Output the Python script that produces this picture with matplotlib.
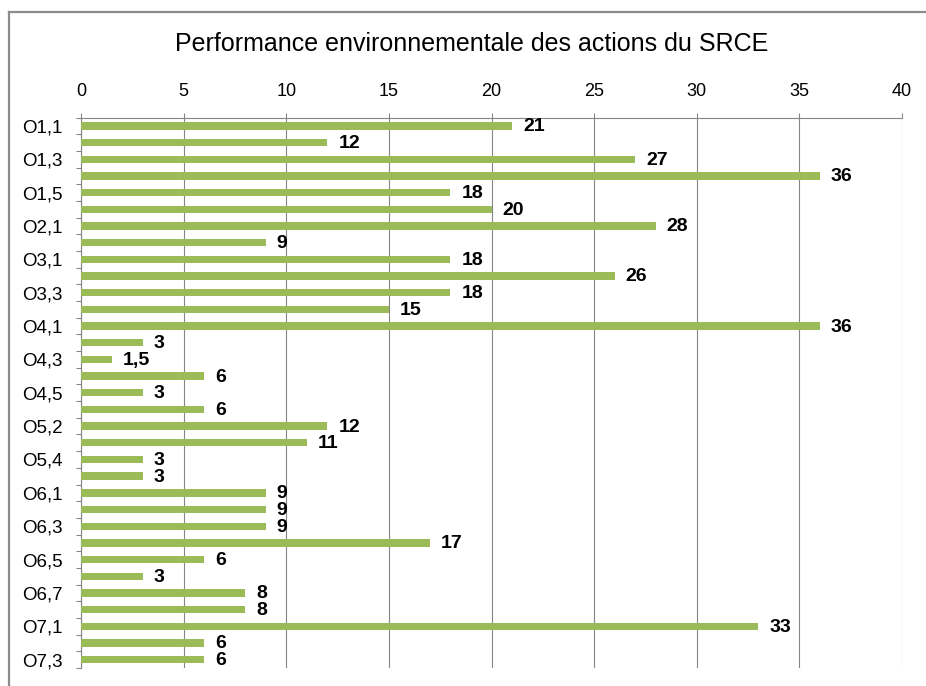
import matplotlib.pyplot as plt
import matplotlib.lines as mlines
import numpy as np

plt.rcParams['font.family'] = ['Liberation Sans', 'DejaVu Sans']

# Actions of the SRCE, one bar each
actions = ['O1,1', 'O1,2', 'O1,3', 'O1,4', 'O1,5', 'O1,6',
           'O2,1', 'O2,2',
           'O3,1', 'O3,2', 'O3,3', 'O3,4',
           'O4,1', 'O4,2', 'O4,3', 'O4,4', 'O4,5',
           'O5,1', 'O5,2', 'O5,3', 'O5,4', 'O5,5',
           'O6,1', 'O6,2', 'O6,3', 'O6,4', 'O6,5', 'O6,6', 'O6,7', 'O6,8',
           'O7,1', 'O7,2', 'O7,3']
scores = [21, 12, 27, 36, 18, 20,
          28, 9,
          18, 26, 18, 15,
          36, 3, 1.5, 6, 3,
          6, 12, 11, 3, 3,
          9, 9, 9, 17, 6, 3, 8, 8,
          33, 6, 6]

bar_color = '#9bbb59'
line_gray = '#868686'

fig = plt.figure(figsize=(9.26, 6.86), dpi=100)
ax = fig.add_axes([81 / 926, 1 - 668 / 686, (902 - 81) / 926, (668 - 117.5) / 686])

y = np.arange(len(actions))
ax.barh(y, scores, height=0.44, color=bar_color, zorder=3)

for yi, v in zip(y, scores):
    txt = ('%g' % v).replace('.', ',')
    ax.annotate(txt, (v, yi), xytext=(11, -1), textcoords='offset pixels',
                ha='left', va='center', fontsize=14, fontweight='bold', zorder=4)

ax.set_xlim(0, 40)
ax.set_xticks(np.arange(0, 41, 5))
ax.set_ylim(len(actions) - 0.5, -0.5)

# labels only on every other action, boundary tick marks between bars
ax.set_yticks(y[::2])
ax.set_yticklabels(actions[::2], fontsize=13.5)
ax.set_yticks(np.arange(-0.5, len(actions)), minor=True)
ax.tick_params(axis='y', which='major', length=0, pad=13)
ax.tick_params(axis='y', which='minor', length=3.6, width=0.8, color=line_gray, direction='out')

ax.xaxis.tick_top()
ax.tick_params(axis='x', which='major', length=3.6, width=0.8, color=line_gray,
               labelsize=13, pad=9)
ax.grid(axis='x', color=line_gray, linewidth=0.8, zorder=0)

for side in ['right', 'bottom']:
    ax.spines[side].set_visible(False)
for side in ['top', 'left']:
    ax.spines[side].set_color(line_gray)
    ax.spines[side].set_linewidth(0.8)

fig.text(471.5 / 926, 1 - 44 / 686, 'Performance environnementale des actions du SRCE',
         ha='center', va='center', fontsize=18)

# outer chart frame, cut at right and bottom
x0, y0 = 9 / 926, 1 - 12 / 686
fig.add_artist(mlines.Line2D([x0, x0], [0, y0], color='#8c8c8c', lw=1.6,
                             transform=fig.transFigure))
fig.add_artist(mlines.Line2D([x0, 1], [y0, y0], color='#8c8c8c', lw=1.6,
                             transform=fig.transFigure))

fig.savefig('out.png', dpi=100)
